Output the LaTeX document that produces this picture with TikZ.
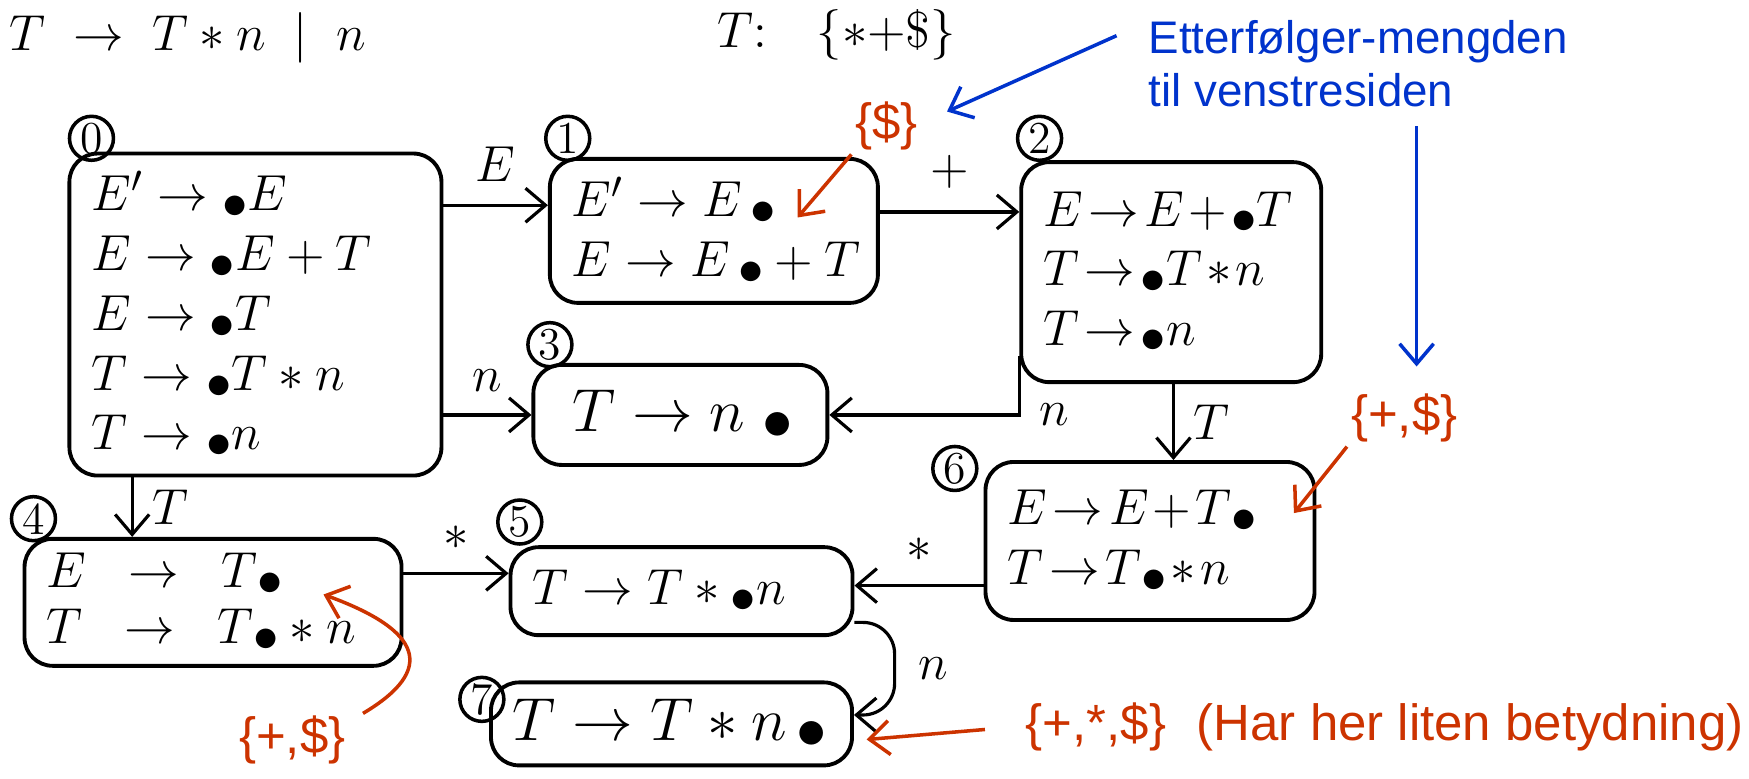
\documentclass[tikz,border=0pt]{standalone}
\usepackage{amsmath}
\usepackage{fontspec}
\newfontfamily\notefont{Liberation Sans}
\usetikzlibrary{arrows.meta, positioning, calc}
\definecolor{notered}{RGB}{204,51,0}
\definecolor{noteblue}{RGB}{0,51,204}
\newcommand{\itm}{\mathord{\raisebox{-0.35ex}{$\bullet$}}}
\newcommand{\itemrow}[1]{\mbox{$#1$}}

\begin{document}
\begin{tikzpicture}[x=0.011154cm, y=-0.011154cm, >={Straight Barb[length=2mm,width=3.4mm]},
    itemset/.style={draw, line width=1.1pt, rounded corners=8pt, align=left, inner xsep=0.22cm, inner ysep=2pt, font=\fontsize{16}{17}\selectfont},
    tight/.style={execute at begin node={\thickmuskip=2mu\medmuskip=1.5mu}},
    num/.style={draw, circle, line width=1pt, minimum size=0.44cm, inner sep=0pt, font=\fontsize{13}{13}\selectfont},
    trans/.style={->, line width=0.9pt},
    lbl/.style={font=\fontsize{15}{15}\selectfont},
    rednote/.style={text=notered, inner sep=1pt, font=\notefont\fontsize{14.5}{17}\selectfont},
    redarrow/.style={->, notered, line width=1pt},
    bluearrow/.style={->, noteblue, line width=1pt}]

\useasboundingbox (0,0) rectangle (1568,698);

% grammar line and follow set at the top
\node[anchor=base west, inner sep=0pt, font=\fontsize{15}{15}\selectfont] (gram) at (8,45) {$T \;\to\; T * n \;\;|\;\; n$};
\node[anchor=base west, inner sep=0pt, font=\fontsize{14}{14}\selectfont] (follow) at (643,43) {$T{:}\quad \{*{+}\$\}$};

% the item sets
\node[itemset, font=\fontsize{15}{17}\selectfont, text width=3.28cm, minimum height=3.22cm] (b0) at (229,282)
    {\itemrow{E' \to \itm E}\\ \itemrow{E \to \itm E + T}\\ \itemrow{E \to \itm T}\\ \itemrow{T \to \itm T * n}\\ \itemrow{T \to \itm n}};
\node[itemset, font=\fontsize{15}{17}\selectfont, text width=2.84cm, minimum height=1.44cm] (b1) at (640,207)
    {\itemrow{E' \to E\,\itm}\\ \itemrow{E \to E\,\itm + T}};
\node[itemset, tight, font=\fontsize{13.5}{17}\selectfont, text width=2.56cm, minimum height=2.20cm] (b2) at (1050,244)
    {\itemrow{E \to E + \itm T}\\ \itemrow{T \to \itm T * n}\\ \itemrow{T \to \itm n}};
\node[itemset, text width=2.50cm, minimum height=1.00cm] (b3) at (610,372)
    {\itemrow{\;T \to n\;\itm}};
\node[itemset, font=\fontsize{15}{16}\selectfont, text width=3.33cm, minimum height=1.27cm] (b4) at (191,540)
    {\itemrow{E \;\;\to\;\; T\itm}\\ \itemrow{T \;\;\to\;\; T\itm * n}};
\node[itemset, font=\fontsize{14}{17}\selectfont, text width=2.98cm, minimum height=0.88cm] (b5) at (611,530)
    {\itemrow{T \to T * \itm n}};
\node[itemset, tight, font=\fontsize{15}{17}\selectfont, text width=2.85cm, minimum height=1.58cm] (b6) at (1031,485)
    {\itemrow{E \to E + T\itm}\\ \itemrow{T \to T\itm * n}};
\node[itemset, text width=3.17cm, minimum height=0.83cm] (b7) at (602,649)
    {\itemrow{T \to T * n\,\itm}};

% state numbers
\node[num] (c0) at (82,124) {0};
\node[num] (c1) at (509,124) {1};
\node[num] (c2) at (932,124) {2};
\node[num] (c3) at (493,309) {3};
\node[num] (c4) at (30,465) {4};
\node[num] (c5) at (466,468) {5};
\node[num] (c6) at (856,420) {6};
\node[num] (c7) at (432,627) {7};

% transitions
\coordinate (e01) at ($(b1.west)+(0,-23)$);
\draw[trans] (b0.east |- e01) -- node[lbl, above=3pt] {$E$} (e01);
\draw[trans] (b0.east |- b3.west) -- node[lbl, above=3pt] {$n$} (b3.west);
\coordinate (e12) at ($(b2.west)+(0,-54)$);
\draw[trans] (b1.east |- e12) -- node[lbl, above=3pt] {$+$} (e12);
\draw[trans] ($(b2.south west)+(0,-25)$) |- node[lbl, pos=0.5, right=2pt] {$n$} (b3.east);
\coordinate (e26) at ($(b2.south)+(2,0)$);
\draw[trans] (e26) -- node[lbl, right=2pt] {$T$} (e26 |- b6.north);
\coordinate (e04) at ($(b0.south west)+(58,0)$);
\draw[trans] (e04) -- node[lbl, right=2pt] {$T$} (e04 |- b4.north);
\coordinate (e45) at ($(b5.west)+(0,-16)$);
\draw[trans] (b4.east |- e45) -- node[lbl, above=3pt] {$*$} (e45);
\coordinate (e65) at ($(b5.east)+(0,-5)$);
\draw[trans] (b6.west |- e65) -- node[lbl, above=3pt] {$*$} (e65);
\draw[trans, rounded corners=9pt] ($(b5.east)+(0,28)$) -- ++(36,0) |- node[lbl, pos=0.25, right=3pt] {$n$} ($(b7.east)+(0,-8)$);

% follow sets
\node[rednote] (fs1) at (795,113) {\{\$\}};
\coordinate (fs1tip) at (715,195);
\draw[redarrow] (fs1.south west) -- (fs1tip);

\node[text=noteblue, inner sep=1pt, font=\notefont\fontsize{13}{14.9}\selectfont, align=left, anchor=west] (note) at (1026,57)
    {Etterfølger-mengden\\til venstresiden};
\coordinate (bt1) at (849,100);
\draw[bluearrow] ($(note.west)+(-25,-25)$) -- (bt1);

\node[rednote] (fs6) at (1259,375) {\{+,\$\}};
\coordinate (bt2) at ($(fs6.north)+(11,-21)$);
\draw[bluearrow] ($(bt2 |- note.south)+(0,14)$) -- (bt2);
\coordinate (fs6tip) at (1160,460);
\draw[redarrow] (fs6.south west) -- (fs6tip);

\node[rednote] (fs4) at (262,663) {\{+,\$\}};
\coordinate (fs4tip) at (290,533);
\draw[redarrow] ($(fs4.north east)+(12,2)$) .. controls (392,600) and (378,565) .. (fs4tip);

\node[rednote, anchor=west] (fs7) at (916,652) {\{+,*,\$\}\hspace{0.6em}(Har her liten betydning)};
\coordinate (fs7tip) at (777,663);
\draw[redarrow] ($(fs7.west)+(-33,2)$) -- (fs7tip);

\end{tikzpicture}
\end{document}
